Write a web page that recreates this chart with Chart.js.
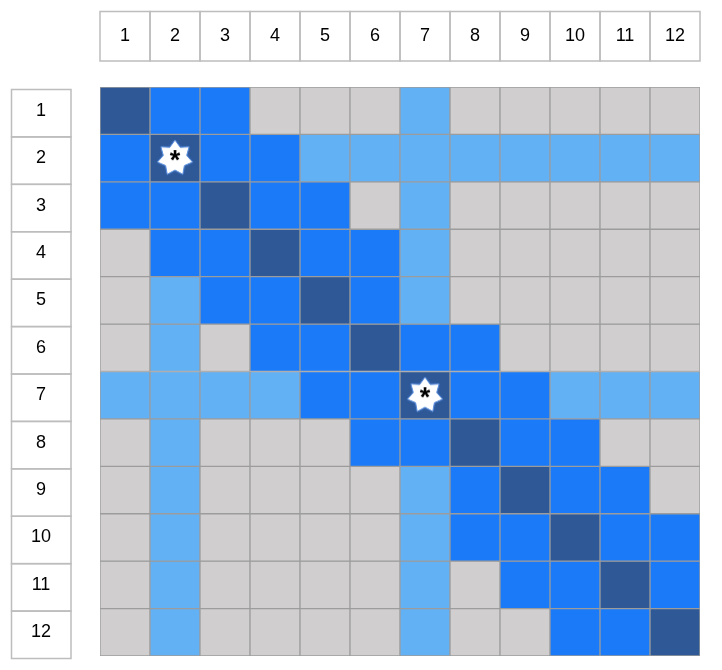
<!DOCTYPE html>
<html>
<head>
<meta charset="utf-8">
<script src="https://cdn.jsdelivr.net/npm/chart.js@4.4.1/dist/chart.umd.min.js"></script>
<style>
html,body{margin:0;padding:0;background:#fff;}
#wrap{width:722px;height:670px;}
</style>
</head>
<body>
<div id="wrap"><canvas id="grid"></canvas></div>
<script>
const cols=["1","2","3","4","5","6","7","8","9","10","11","12"];
const rows=["1","2","3","4","5","6","7","8","9","10","11","12"];

// 3 = diagonal, 2 = neighbour, 1 = highlighted row/column, 0 = empty
const cells=[
[3,2,2,0,0,0,1,0,0,0,0,0],
[2,3,2,2,1,1,1,1,1,1,1,1],
[2,2,3,2,2,0,1,0,0,0,0,0],
[0,2,2,3,2,2,1,0,0,0,0,0],
[0,1,2,2,3,2,1,0,0,0,0,0],
[0,1,0,2,2,3,2,2,0,0,0,0],
[1,1,1,1,2,2,3,2,2,1,1,1],
[0,1,0,0,0,2,2,3,2,2,0,0],
[0,1,0,0,0,0,1,2,3,2,2,0],
[0,1,0,0,0,0,1,2,2,3,2,2],
[0,1,0,0,0,0,1,0,2,2,3,2],
[0,1,0,0,0,0,1,0,0,2,2,3]
];

// row, column of the marked cells
const starred=[["2","2"],["7","7"]];

const palette=["#d0cecf","#63b1f5","#1a7af8","#2e5896"];
const font="'Liberation Sans', Arial, sans-serif";

// star marker with an asterisk
function makeStar(){
  const cv=document.createElement("canvas");
  cv.width=44;cv.height=44;
  const g=cv.getContext("2d");
  const cx=22,cy=22,n=7,ro=18,ri=12;
  g.beginPath();
  for(let i=0;i<n*2;i++){
    const r=i%2==0?ro:ri;
    const a=-Math.PI/2+i*Math.PI/n;
    const px=cx+r*Math.cos(a),py=cy+r*Math.sin(a);
    if(i==0) g.moveTo(px,py); else g.lineTo(px,py);
  }
  g.closePath();
  g.shadowColor="rgba(70,120,210,0.9)";
  g.shadowBlur=3;
  g.fillStyle="#fff";
  g.fill();
  g.shadowBlur=0;
  g.strokeStyle="#5b8fdc";
  g.lineWidth=1;
  g.stroke();
  g.fillStyle="#000";
  g.font="bold 27px "+font;
  g.textAlign="center";
  g.textBaseline="alphabetic";
  g.fillText("*",cx,cy+11);
  return cv;
}

const headerBoxes={
  id:"headerBoxes",
  beforeDraw(chart){
    const ctx=chart.ctx;
    const x=chart.scales.x,y=chart.scales.y;
    const w=x.getPixelForValue(1)-x.getPixelForValue(0);
    ctx.save();
    ctx.strokeStyle="#bdbdbd";
    ctx.lineWidth=1.5;
    cols.forEach((c,i)=>{
      const cx=x.getPixelForValue(i);
      ctx.strokeRect(cx-w/2,11.5,w,49.5);
    });
    rows.forEach((r,i)=>{
      const top=y.getPixelForValue(i)+2.5;
      const bot=y.getPixelForValue(i+1)+2.5;
      ctx.strokeRect(11.5,top,59.5,bot-top);
    });
    ctx.restore();
  }
};

const datasets=rows.map((r,i)=>({
  type:"bar",
  label:"row "+r,
  data:cols.map(()=>[i,i+1]),
  backgroundColor:cells[i].map(v=>palette[v]),
  borderColor:"#9c9c9c",
  borderWidth:1,
  borderSkipped:false,
  barPercentage:1,
  categoryPercentage:1,
  grouped:false
}));

datasets.push({
  type:"scatter",
  label:"marked",
  data:starred.map(s=>({x:s[1],y:rows.indexOf(s[0])+0.5})),
  pointStyle:makeStar(),
  order:-1
});

new Chart(document.getElementById("grid"),{
  type:"bar",
  data:{labels:cols,datasets:datasets},
  options:{
    responsive:true,
    maintainAspectRatio:false,
    animation:false,
    layout:{padding:{top:0,left:0,right:22,bottom:14}},
    plugins:{legend:{display:false},tooltip:{enabled:false}},
    scales:{
      x:{
        type:"category",
        position:"top",
        grid:{display:false,drawTicks:false},
        border:{display:false},
        ticks:{padding:40,color:"#000",font:{size:18,family:font}},
        afterFit(s){s.height=87;s.paddingLeft=0;s.paddingRight=0;}
      },
      y:{
        type:"linear",
        min:0,
        max:12,
        reverse:true,
        grid:{display:false,drawTicks:false},
        border:{display:false},
        afterBuildTicks(s){s.ticks=rows.map((r,i)=>({value:i+0.5}));},
        ticks:{
          padding:49,
          crossAlign:"center",
          color:"#000",
          font:{size:18,family:font},
          callback:(v,i)=>rows[i]
        },
        afterFit(s){s.width=100;s.paddingTop=0;s.paddingBottom=0;}
      }
    }
  },
  plugins:[headerBoxes]
});
</script>
</body>
</html>
